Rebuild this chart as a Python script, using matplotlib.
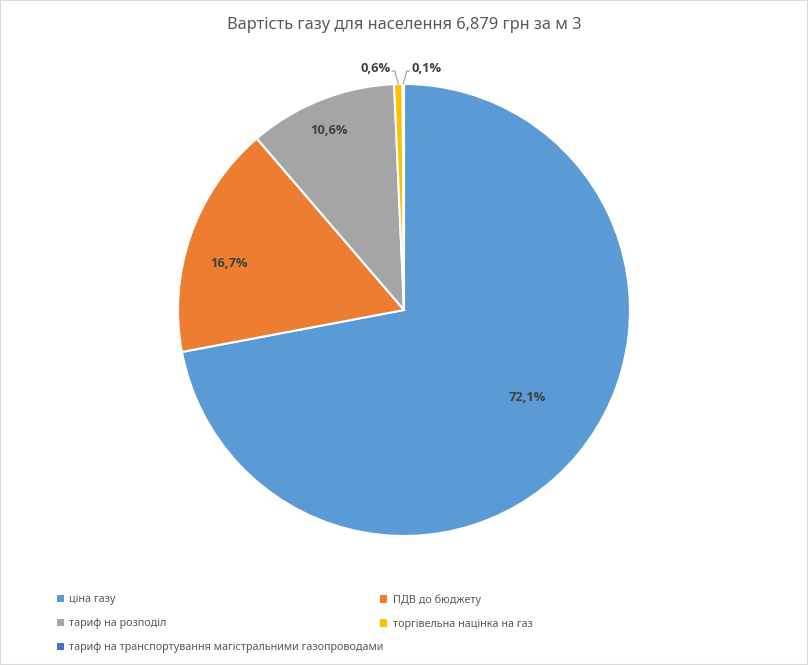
#!/usr/bin/env python
# gas price breakdown pie
import matplotlib
matplotlib.use("Agg")
import matplotlib.pyplot as plt
from matplotlib.patches import Patch, Rectangle
import numpy as np

plt.rcParams['font.family'] = ['Noto Sans', 'DejaVu Sans']

labels = ['ціна газу', 'ПДВ до бюджету', 'тариф на розподіл',
          'торгівельна націнка на газ',
          'тариф на транспортування магістральними газопроводами']
shares = [72.1, 16.7, 10.6, 0.6, 0.1]
pct_text = ['72,1%', '16,7%', '10,6%', '0,6%', '0,1%']
colors = ['#5B9BD5', '#ED7D31', '#A5A5A5', '#FFC000', '#4472C4']

txt_col = '#595959'
lbl_col = '#404040'
bold_fam = ['Open Sans', 'DejaVu Sans']

fig = plt.figure(figsize=(8.08, 6.65), dpi=100)
fig.patches.append(Rectangle((0, 0), 1, 1, transform=fig.transFigure,
                             fill=False, edgecolor='#D9D9D9', linewidth=1.5))

ax = fig.add_axes([0.2203, 0.194, 0.5594, 0.6797])
wedges, _ = ax.pie(shares, colors=colors, startangle=90, counterclock=False,
                   radius=1.0, wedgeprops=dict(edgecolor='white', linewidth=1.5))
ax.set_xlim(-1, 1)
ax.set_ylim(-1, 1)
ax.set_aspect('equal')

# inside labels: distance from centre and angle nudge per slice (best-fit like)
inner_r = [0.67, 0.80, 0.86]
nudge = [4.5, 4.5, 1.0]
for i in range(3):
    w = wedges[i]
    ang = np.deg2rad((w.theta1 + w.theta2) / 2 + nudge[i])
    ax.text(inner_r[i] * np.cos(ang), inner_r[i] * np.sin(ang), pct_text[i],
            ha='center', va='center', fontsize=9.3, fontweight='bold',
            color=lbl_col, family=bold_fam)

# small slices: outside labels with leader lines
for i, side in [(3, -1), (4, 1)]:
    w = wedges[i]
    ang = np.deg2rad((w.theta1 + w.theta2) / 2)
    x0, y0 = np.cos(ang), np.sin(ang)
    yl = 1.057
    xk = x0 + side * 0.015
    xe = xk + side * 0.012
    ax.plot([x0, xk, xe], [y0, yl, yl], color='#A6A6A6', linewidth=0.9,
            clip_on=False)
    ax.text(xe + side * 0.008, yl + 0.012, pct_text[i], ha='left' if side > 0 else 'right',
            va='center', fontsize=9.3, fontweight='bold', color=lbl_col,
            family=bold_fam)

fig.text(0.5, 0.962, 'Вартість газу для населення 6,879 грн за м 3',
         ha='center', va='center', fontsize=11.8, color=txt_col)

handles = [Patch(facecolor=c, edgecolor='none') for c in colors]
kw = dict(frameon=False, fontsize=7.8, handlelength=0.65, handleheight=0.65,
          handletextpad=0.5, labelspacing=1.2, labelcolor=txt_col,
          borderaxespad=0, borderpad=0)
leg1 = fig.legend([handles[0], handles[2], handles[4]],
                  [labels[0], labels[2], labels[4]],
                  loc='upper left', bbox_to_anchor=(0.0705, 0.1065), **kw)
leg2 = fig.legend([handles[1], handles[3]], [labels[1], labels[3]],
                  loc='upper left', bbox_to_anchor=(0.4705, 0.1065), **kw)

fig.savefig('out.png', dpi=100, facecolor='white')
